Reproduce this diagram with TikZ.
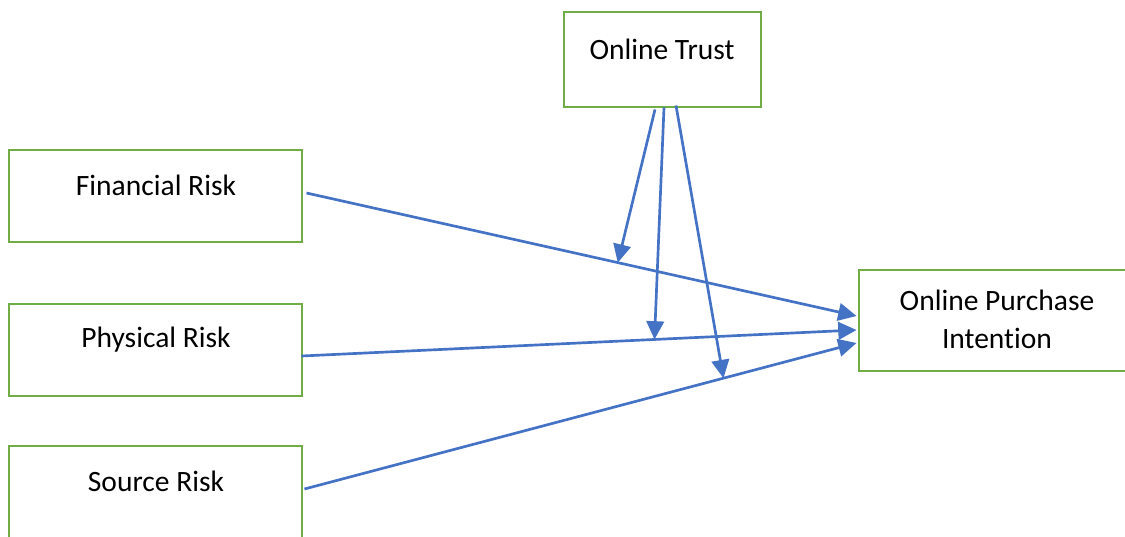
\documentclass[tikz,border=0pt]{standalone}
\usepackage{fontspec}
\setmainfont[Ligatures=CommonOff]{Carlito}
\usepackage{xcolor}
\usepackage{tikz}
\usetikzlibrary{arrows.meta,positioning,calc}

\definecolor{boxgreen}{HTML}{70AD47}
\definecolor{linkblue}{HTML}{4472C4}

\begin{document}
\begin{tikzpicture}[x=0.025cm,y=-0.025cm,
		box/.style={draw=boxgreen, line width=2.1pt, fill=white, inner sep=0pt},
		label text/.style={font=\fontsize{21}{27}\selectfont, align=center, inner sep=0pt},
		link/.style={draw=linkblue, line width=1.9pt, -{Triangle[length=13pt,width=12.5pt]}}]
		\useasboundingbox (0,0) rectangle (1125,537);
		% boxes
		\node[box, minimum width=197*0.025cm, minimum height=95*0.025cm] (trust) at (662.5,59.5) {};
		\node[box, minimum width=293*0.025cm, minimum height=92*0.025cm] (fin) at (155.5,196) {};
		\node[box, minimum width=293*0.025cm, minimum height=92*0.025cm] (phys) at (155.5,350) {};
		\node[box, minimum width=293*0.025cm, minimum height=98*0.025cm] (src) at (155.5,495) {};
		\node[box, minimum width=282*0.025cm, minimum height=101*0.025cm, label text] (opi) at (1000,320.5) {};
		% texts
		\node[label text] (trusttxt) at (662,49) {Online Trust};
		\node[label text] (fintxt) at (156,185) {Financial Risk};
		\node[label text] (phystxt) at (156,340) {Physical Risk};
		\node[label text] (srctxt) at (156,481) {Source Risk};
		\node[label text] (opitxt) at (997,319) {Online Purchase\\Intention};
		% ends on the outcome box
		\coordinate (e1) at ($(opi.west)+(-1,-4.5)$);
		\coordinate (e2) at ($(opi.west)+(-1,9.5)$);
		\coordinate (e3) at ($(opi.west)+(-1,22.5)$);
		% direct paths
		\draw[link] ($(fin.east)+(3,-3)$) -- coordinate[pos=0.566] (m1) (e1);
		\draw[link] ($(phys.east)+(-2,6)$) -- coordinate[pos=0.636] (m2) (e2);
		\draw[link] ($(src.east)+(1,-6)$) -- coordinate[pos=0.759] (m3) (e3);
		% moderation
		\draw[link] ($(trust.south)+(-7.5,1)$) -- (m1);
		\draw[link] ($(trust.south)+(1.5,-1)$) -- (m2);
		\draw[link] ($(trust.south)+(13.5,-3)$) -- (m3);
	\end{tikzpicture}
\end{document}
